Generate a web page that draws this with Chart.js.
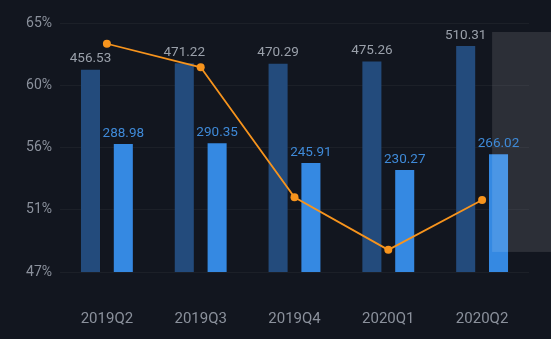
<!DOCTYPE html>
<html>
<head>
<meta charset="utf-8">
<script src="https://cdn.jsdelivr.net/npm/chart.js@4/dist/chart.umd.min.js"></script>
<style>
  html, body { margin: 0; padding: 0; background: #12161f; }
  #wrap { width: 551px; height: 339px; position: relative; }
</style>
</head>
<body>
<div id="wrap"><canvas id="c"></canvas></div>
<script>
// quarterly data
const quarters   = ['2019Q2', '2019Q3', '2019Q4', '2020Q1', '2020Q2'];
const totalVals  = [456.53, 471.22, 470.29, 475.26, 510.31];
const partVals   = [288.98, 290.35, 245.91, 230.27, 266.02];
const ratioVals  = [63.5, 61.8, 52.4, 48.6, 52.2];

// left axis ticks (percent)
const pctTicks   = [47, 51.5, 56, 60.5, 65];
const pctLabels  = ['47%', '51%', '56%', '60%', '65%'];

// shaded band over the latest quarter (percent axis values)
const bandRange  = [48.45, 64.35];

const GREY = '#8b919c';

const barLabels = {
  id: 'barLabels',
  afterDatasetsDraw(chart) {
    const { ctx, scales } = chart;
    // highlight band, from just right of the last category to the canvas edge
    const x0 = scales.x.getPixelForValue(4) + 10;
    const yTop = scales.y.getPixelForValue(bandRange[1]);
    const yBot = scales.y.getPixelForValue(bandRange[0]);
    ctx.save();
    ctx.fillStyle = 'rgba(255,255,255,0.11)';
    ctx.fillRect(x0, yTop, chart.width - x0, yBot - yTop);

    ctx.font = '13.5px Roboto';
    ctx.textAlign = 'center';
    ctx.textBaseline = 'bottom';
    [0, 1].forEach(di => {
      const ds = chart.data.datasets[di];
      chart.getDatasetMeta(di).data.forEach((bar, i) => {
        ctx.fillStyle = di === 0 ? '#9aa0aa' : '#3f8ad8';
        ctx.fillText(ds.data[i].toFixed(2), bar.x, bar.y - 4);
      });
    });
    ctx.restore();
  }
};

new Chart(document.getElementById('c'), {
  data: {
    labels: quarters,
    datasets: [
      {
        type: 'bar',
        data: totalVals,
        backgroundColor: '#234b7c',
        yAxisID: 'yBar',
        categoryPercentage: 0.7,
        barPercentage: 0.58,
        order: 2,
      },
      {
        type: 'bar',
        data: partVals,
        backgroundColor: '#3589e2',
        yAxisID: 'yBar',
        categoryPercentage: 0.7,
        barPercentage: 0.58,
        order: 2,
      },
      {
        type: 'line',
        data: ratioVals,
        borderColor: '#f7941d',
        backgroundColor: '#f7941d',
        borderWidth: 1.8,
        pointRadius: 4,
        pointBorderWidth: 0,
        yAxisID: 'y',
        tension: 0,
        order: 1,
      },
    ],
  },
  options: {
    responsive: true,
    maintainAspectRatio: false,
    animation: false,
    layout: { padding: { top: 23, right: 22, bottom: 10, left: 0 } },
    plugins: {
      legend: { display: false },
      tooltip: { enabled: false },
    },
    scales: {
      x: {
        grid: { display: false },
        border: { display: false },
        ticks: {
          color: GREY,
          font: { family: 'Roboto', size: 15 },
          padding: 30,
          maxRotation: 0,
          minRotation: 0,
          autoSkip: false,
        },
        afterFit(axis) { axis.height = 57; },
      },
      y: {
        position: 'left',
        min: 47,
        max: 65,
        afterBuildTicks(axis) { axis.ticks = pctTicks.map(v => ({ value: v })); },
        ticks: {
          color: GREY,
          font: { family: 'Roboto', size: 14 },
          padding: 8,
          callback(v) { return pctLabels[pctTicks.indexOf(v)]; },
        },
        grid: { color: 'rgba(255,255,255,0.045)', lineWidth: 1, drawTicks: false },
        border: { display: false },
        afterFit(axis) { axis.width = 60; },
      },
      yBar: {
        display: false,
        min: 0,
        max: 562,
      },
    },
  },
  plugins: [barLabels],
});
</script>
</body>
</html>
